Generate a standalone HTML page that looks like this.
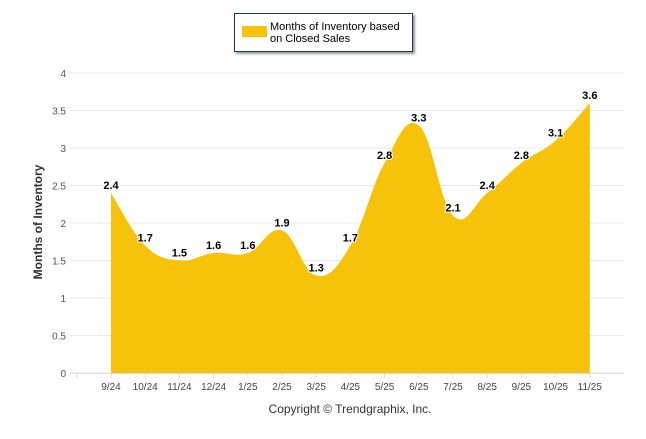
<!DOCTYPE html>
<html><head><meta charset="utf-8"><style>
body{margin:0;background:#fff;font-family:"Liberation Sans",sans-serif}
svg text{font-family:"Liberation Sans",sans-serif}
</style></head><body>
<svg width="646" height="434">
<g id="grid"></g><g id="area"></g><g id="labels"></g>
<g>
<rect x="234.5" y="13.5" width="178" height="38" fill="#fff" stroke="#1f3457" stroke-width="1" style="filter:drop-shadow(2px 2px 1px #999)"/>
<rect x="242" y="26" width="25" height="11" fill="#f7c30a"/>
<text x="270" y="30" font-size="11" fill="#000">Months of Inventory based</text>
<text x="270" y="42" font-size="11" fill="#000">on Closed Sales</text>
</g>
<text transform="translate(42,222) rotate(-90)" text-anchor="middle" font-size="12" font-weight="bold" fill="#333">Months of Inventory</text>
<text x="350" y="413" text-anchor="middle" font-size="12" fill="#333">Copyright © Trendgraphix, Inc.</text>
</svg>
<script>
const categories=["9/24","10/24","11/24","12/24","1/25","2/25","3/25","4/25","5/25","6/25","7/25","8/25","9/25","10/25","11/25"];
const values=[2.4,1.7,1.5,1.6,1.6,1.9,1.3,1.7,2.8,3.3,2.1,2.4,2.8,3.1,3.6];
const yTicks=[0,0.5,1,1.5,2,2.5,3,3.5,4];
const ns="http://www.w3.org/2000/svg";
const x=i=>111+34.2*i, y=v=>373-75*v;
function mk(t,a,p){const e=document.createElementNS(ns,t);for(const k in a)e.setAttribute(k,a[k]);p.appendChild(e);return e;}
const g=document.getElementById('grid');
yTicks.forEach(t=>{
 const l=mk('line',{x1:70,x2:624,y1:y(t),y2:y(t),stroke:'#e8e8e8'},g);
 
 
 const tx=mk('text',{x:66,y:y(t)+4,'text-anchor':'end','font-size':'10',fill:'#555'},g);tx.textContent=t;
 
 
});
mk('line',{x1:70,x2:624,y1:373.5,y2:373.5,stroke:'#ddd'},g);
[x(-1)].concat(categories.map((c,i)=>x(i))).forEach(px=>mk('line',{x1:px,x2:px,y1:373,y2:378,stroke:'#ddd'},g));
categories.forEach((c,i)=>{const t=mk('text',{x:x(i),y:390,'text-anchor':'middle','font-size':'10',fill:'#444'},g);t.textContent=c;
 
 });
const P=values.map((v,i)=>[x(i),y(v)]);
let d=`M${P[0][0]},${y(0)} L${P[0][0]},${P[0][1]}`;
for(let i=0;i<P.length-1;i++){
 const p0=P[i-1]||P[i],p1=P[i],p2=P[i+1],p3=P[i+2]||p2,k=0.2;
 d+=` C${p1[0]+(p2[0]-p0[0])*k},${p1[1]+(p2[1]-p0[1])*k} ${p2[0]-(p3[0]-p1[0])*k},${p2[1]-(p3[1]-p1[1])*k} ${p2[0]},${p2[1]}`;
}
d+=` L${P[P.length-1][0]},${y(0)} Z`;
const a=mk('path',{d,fill:'#f7c30a'},document.getElementById('area'));


const L=document.getElementById('labels');
values.forEach((v,i)=>{const t=mk('text',{x:x(i),y:y(v)-4,'text-anchor':'middle','font-size':'11','font-weight':'bold',fill:'#000',stroke:'#fff','stroke-width':'2','paint-order':'stroke'},L);t.textContent=v;
 
 });
</script>
</body></html>
